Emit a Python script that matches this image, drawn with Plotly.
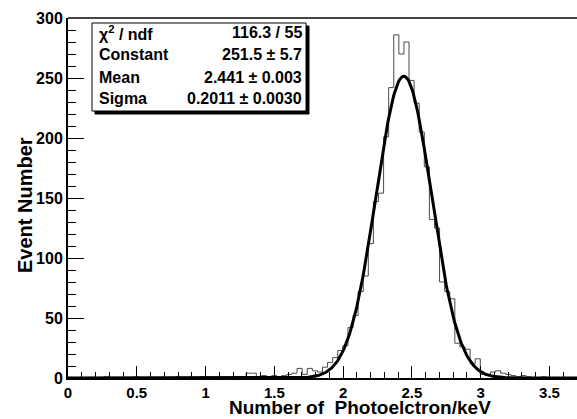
import numpy as np
import plotly.graph_objects as go

# ---------------- data ----------------
x_min, x_max, n_bins = 0.0, 3.7, 100
counts = [
    0, 0, 0, 0, 0, 0, 0, 1, 0, 0,        # 0-9
    0, 0, 0, 1, 0, 0, 0, 0, 0, 0,        # 10-19
    0, 1, 0, 0, 0, 0, 1, 1, 0, 0,        # 20-29
    0, 0, 1, 0, 1, 4, 4, 1, 2, 1,        # 30-39
    2, 1, 2, 3, 4, 8, 3, 8, 6, 5,        # 40-49
    9, 13, 17, 23, 27, 42, 52, 72, 85, 112,   # 50-59
    147, 154, 201, 242, 286, 270, 280, 248, 229, 205,  # 60-69
    176, 132, 125, 80, 72, 66, 29, 26, 24, 12,  # 70-79
    16, 3, 2, 5, 6, 4, 3, 2, 1, 2,       # 80-89
    1, 0, 0, 1, 0, 0, 0, 0, 0, 0,        # 90-99
]

fit_constant = 251.5
fit_mean = 2.441
fit_sigma = 0.2011

stats_labels = ["χ<sup>2</sup> / ndf", "Constant", "Mean", "Sigma"]
stats_values = ["116.3 / 55", "251.5 ± 5.7", "2.441 ± 0.003", "0.2011 ± 0.0030"]

x_tick_vals = [0, 0.5, 1, 1.5, 2, 2.5, 3, 3.5]
x_tick_text = ["0", "0.5", "1", "1.5", "2", "2.5", "3", "3.5"]
y_tick_vals = [0, 50, 100, 150, 200, 250, 300]
y_tick_text = ["0", "50", "100", "150", "200", "250", "300"]

x_title = "Number of\u00a0\u00a0Photoelctron/keV"
y_title = "Event Number"

# ---------------- geometry (pixels) ----------------
W, H = 577, 419
L, R, T, B = 68, 0, 18, 41
PW, PH = W - L - R, H - T - B


def px_x(p):
    return (p - L) / PW


def px_y(p):
    return (H - B - p) / PH


edges = np.linspace(x_min, x_max, n_bins + 1)
hist_x = list(edges)
hist_y = list(counts) + [counts[-1]]

fit_x = np.linspace(x_min, x_max, 600)
fit_y = fit_constant * np.exp(-0.5 * ((fit_x - fit_mean) / fit_sigma) ** 2)

FONT = "Liberation Sans, Arial, Helvetica, sans-serif"

fig = go.Figure()
fig.add_trace(go.Scatter(x=hist_x, y=hist_y, mode="lines", line_shape="hv",
                         line=dict(color="#4a4a4a", width=1), showlegend=False,
                         hoverinfo="skip"))
fig.add_trace(go.Scatter(x=fit_x, y=fit_y, mode="lines",
                         line=dict(color="black", width=3), showlegend=False,
                         hoverinfo="skip"))

xtickfont = dict(family=FONT, size=15, color="black", weight="bold")
ytickfont = dict(family=FONT, size=16, color="black", weight="bold")

fig.update_layout(
    width=W, height=H, autosize=False,
    margin=dict(l=L, r=R, t=T, b=B, pad=0),
    paper_bgcolor="white", plot_bgcolor="white",
    xaxis=dict(range=[x_min, x_max], tickmode="array", tickvals=x_tick_vals,
               ticktext=x_tick_text, ticks="inside", ticklen=12, tickwidth=1,
               tickcolor="black", showline=True, linewidth=2, linecolor="black",
               showgrid=False, zeroline=False, tickfont=xtickfont,
               minor=dict(dtick=0.1, tick0=0, ticks="inside", ticklen=6,
                          tickwidth=1, tickcolor="black", showgrid=False)),
    yaxis=dict(range=[0, 300], tickmode="array", tickvals=y_tick_vals,
               ticktext=y_tick_text, ticks="inside", ticklen=16, tickwidth=1,
               tickcolor="black", showline=True, linewidth=2, linecolor="black",
               showgrid=False, zeroline=False, tickfont=ytickfont,
               minor=dict(dtick=10, tick0=0, ticks="inside", ticklen=8,
                          tickwidth=1, tickcolor="black", showgrid=False)),
)

# top frame line
fig.add_shape(type="line", xref="paper", yref="paper", x0=0, x1=1, y0=1, y1=1,
              line=dict(color="#444444", width=2))

# stats box with shadow
bx0, bx1, by0, by1 = 92, 306, 23, 111
fig.add_shape(type="rect", xref="paper", yref="paper",
              x0=px_x(bx0 + 3), x1=px_x(bx1 + 3), y0=px_y(by1 + 3), y1=px_y(by0 + 3),
              line=dict(color="black", width=1), fillcolor="black")
fig.add_shape(type="rect", xref="paper", yref="paper",
              x0=px_x(bx0), x1=px_x(bx1), y0=px_y(by1), y1=px_y(by0),
              line=dict(color="black", width=1), fillcolor="white")

row_y = [33, 55, 77, 99]
for lab, val, yy in zip(stats_labels, stats_values, row_y):
    fig.add_annotation(xref="paper", yref="paper", x=px_x(97), y=px_y(yy),
                       text=lab, showarrow=False, xanchor="left", yanchor="middle",
                       font=dict(family=FONT, size=16, color="black", weight="bold"))
    fig.add_annotation(xref="paper", yref="paper", x=px_x(304), y=px_y(yy),
                       text=val, showarrow=False, xanchor="right", yanchor="middle",
                       font=dict(family=FONT, size=16, color="black", weight="bold"))

# axis titles
fig.add_annotation(xref="paper", yref="paper", x=px_x(360), y=px_y(407),
                   text=x_title, showarrow=False, xanchor="center", yanchor="middle",
                   font=dict(family=FONT, size=19, color="black", weight="bold"))
fig.add_annotation(xref="paper", yref="paper", x=px_x(25), y=px_y(205),
                   text=y_title, showarrow=False, xanchor="center", yanchor="middle",
                   textangle=-90,
                   font=dict(family=FONT, size=20, color="black", weight="bold"))

fig.write_html("out.html")
